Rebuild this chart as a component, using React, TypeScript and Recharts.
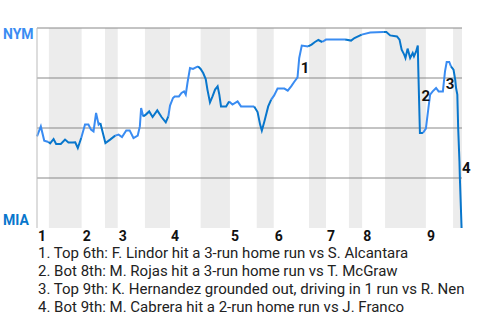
import React from 'react';
import { LineChart, Line, XAxis, YAxis, ReferenceArea, ReferenceLine, ReferenceDot } from 'recharts';

// play index (0..100 across the game) and NYM win probability in %
const plays = [
  0, 0.9, 1.7, 2.7, 3.1, 3.9, 4.5, 5.6, 6.6, 7.4, 8.4, 9.0, 9.6, 10.4, 11.3, 12.1, 12.7, 13.3, 13.9, 14.5,
  14.9, 16.1, 17.2, 18.4, 19.2, 20.0, 21.0, 21.8, 22.7, 23.7, 24.2, 24.5, 25.0, 25.6, 26.4, 27.2, 28.3, 29.3, 30.3, 30.9,
  31.3, 32.0, 32.4, 33.4, 34.0, 34.6, 35.0, 35.4, 36.0, 36.7, 37.4, 37.9, 38.5, 39.1, 39.7, 40.1, 40.7, 41.3, 41.9, 42.5,
  42.9, 43.3, 44.5, 45.2, 46.0, 47.2, 48.0, 50.1, 51.1, 51.9, 52.5, 52.9, 53.5, 54.4, 55.1, 55.8, 56.6, 58.2, 59.0, 59.8,
  60.5, 61.3, 61.7, 62.3, 63.8, 64.6, 65.4, 66.2, 67.1, 68.0, 69.4, 72.5, 73.9, 74.7, 76.4, 78.4, 81.5, 82.2, 83.1, 84.7,
  85.3, 85.8, 86.4, 86.7, 87.2, 87.8, 88.4, 88.7, 89.2, 89.6, 89.7, 90.1, 90.8, 91.5, 92.1, 92.5, 93.1, 93.9, 94.5, 95.5,
  96.0, 96.4, 97.0, 97.4, 98.0, 98.4, 98.6, 98.9, 99.1, 99.4, 99.5, 99.9,
];
const nymPct = [
  45.8, 50.8, 43.7, 43, 42.3, 44.5, 42, 42, 44.2, 42.8, 42.7, 42.8, 40, 45, 51.7, 51.7, 49.2, 48.3, 57.5, 51.7,
  52.5, 42.5, 44.2, 46.2, 46.7, 45.5, 48.8, 48.8, 45, 46.2, 50.8, 60, 55.8, 56.7, 58.3, 55.5, 58.8, 55.5, 52.8, 55.8,
  61.2, 65, 65.8, 65.8, 67.5, 68.3, 66.7, 72.5, 80, 79.5, 80.3, 80.8, 79.5, 77.5, 74.5, 69.2, 62.8, 65.8, 69.2, 70.8,
  66.7, 60.8, 60.8, 63.3, 61.7, 63.3, 60.8, 60.8, 60.8, 58, 51.7, 48.7, 53.3, 60.8, 64.2, 66.3, 69.7, 69.7, 68.7, 70.8,
  73, 75.3, 85, 91.2, 90.8, 91.7, 93, 94, 93, 94.2, 94.2, 94.2, 93.7, 95, 96.7, 97.7, 98, 98, 96.3, 95.8,
  94.2, 89.2, 86.7, 85, 89.7, 85, 87.5, 85.8, 88.3, 91.3, 80.8, 47.5, 47.5, 49.7, 60, 66.7, 68.3, 70, 68.3, 68.3,
  78.3, 83, 83, 80.8, 79.2, 74.2, 70, 66.7, 50, 33.3, 25, 0,
];

// first play of each half inning (top 1st, bot 1st, top 2nd, ...)
const halfStarts = [0, 2.8, 10.5, 16.0, 19.0, 25.4, 31.3, 38.5, 45.4, 51.7, 55.7, 64.0, 68.0, 73.4, 76.5, 81.9, 91.5, 97.9];
const innings = ['1', '2', '3', '4', '5', '6', '7', '8', '9'];

const events = [
  '1. Top 6th: F. Lindor hit a 3-run home run vs S. Alcantara',
  '2. Bot 8th: M. Rojas hit a 3-run home run vs T. McGraw',
  '3. Top 9th: K. Hernandez grounded out, driving in 1 run vs R. Nen',
  '4. Bot 9th: M. Cabrera hit a 2-run home run vs J. Franco',
];
const eventPlays = [61.6, 90.0, 95.7, 99.5];
const eventLabelPct = [80.1, 66.1, 71.9, 30.1];

const NYM_BLUE = '#3a8cf2';
const MIA_BLUE = '#0876cc';

const halfOf = (x: number) => {
  let h = 0;
  halfStarts.forEach((s, i) => {
    if (x >= s) h = i;
  });
  return h;
};

const data = plays.map((play, i) => {
  const h = halfOf(play);
  const next = i + 1 < plays.length ? halfOf(plays[i + 1]) : -1;
  const p = nymPct[i];
  return {
    play,
    top: h % 2 === 0 || next % 2 === 0 ? p : null,
    bot: h % 2 === 1 || (next >= 0 && next % 2 === 1) ? p : null,
  };
});

const inningTicks = halfStarts.filter((_, i) => i % 2 === 0);

const InningTick = (props: any) => {
  const { x, y, payload } = props;
  const idx = inningTicks.indexOf(payload.value);
  return (
    <text x={x + 1} y={y + 13} fontSize={14} fontWeight="bold" fill="#111" textAnchor="start">
      {innings[idx]}
    </text>
  );
};

const TeamTick = (props: any) => {
  const { y, payload } = props;
  const isTop = payload.value === 100;
  return (
    <text
      x={3}
      y={isTop ? y + 11 : y - 3.5}
      fontSize={14}
      fontWeight="bold"
      fill={isTop ? NYM_BLUE : MIA_BLUE}
      textAnchor="start"
    >
      {isTop ? 'NYM' : 'MIA'}
    </text>
  );
};

const eventMark = (n: number) => (props: any) => (
  <text x={props.cx + 2} y={props.cy + 5} fontSize={15} fontWeight="bold" fill="#111" textAnchor="start">
    {n}
  </text>
);

export default function App() {
  return (
    <div style={{ position: 'absolute', left: 0, top: 0, width: 480, height: 320, fontFamily: 'Roboto, sans-serif', background: '#fff' }}>
      <LineChart width={480} height={250} data={data} margin={{ top: 28, right: 18, bottom: 0, left: 0 }}>
        {halfStarts.map((s, i) =>
          i % 2 === 1 ? (
            <ReferenceArea
              key={'band' + i}
              x1={s}
              x2={halfStarts[i + 1] ?? 100}
              y1={0}
              y2={100}
              fill="#ececec"
              fillOpacity={1}
              stroke="none"
            />
          ) : null
        )}
        {[25, 50, 75, 100].map((v) => (
          <ReferenceLine key={'g' + v} y={v} stroke="#888" strokeWidth={1} />
        ))}
        <XAxis
          type="number"
          dataKey="play"
          domain={[0, 100]}
          ticks={inningTicks}
          tick={<InningTick />}
          axisLine={false}
          tickLine={false}
          tickSize={0}
          tickMargin={0}
          height={22}
          interval={0}
        />
        <YAxis
          domain={[0, 100]}
          ticks={[0, 100]}
          width={37}
          tick={<TeamTick />}
          axisLine={{ stroke: '#bbb' }}
          tickLine={false}
          allowDataOverflow
        />
        <Line type="linear" dataKey="top" stroke={NYM_BLUE} strokeWidth={2} dot={false} isAnimationActive={false} connectNulls={false} />
        <Line type="linear" dataKey="bot" stroke={MIA_BLUE} strokeWidth={2} dot={false} isAnimationActive={false} connectNulls={false} />
        {eventPlays.map((x, i) => (
          <ReferenceDot key={'ev' + i} x={x} y={eventLabelPct[i]} r={0} ifOverflow="visible" shape={eventMark(i + 1)} />
        ))}
      </LineChart>
      <div style={{ position: 'absolute', top: 244, left: 38, fontSize: 15, lineHeight: '18px', color: '#222' }}>
        {events.map((e) => (
          <div key={e}>{e}</div>
        ))}
      </div>
    </div>
  );
}
